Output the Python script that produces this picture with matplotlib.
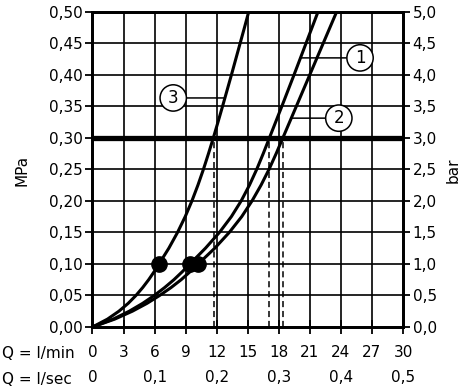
import matplotlib
matplotlib.use('Agg')
import matplotlib.pyplot as plt
import numpy as np

# pressure levels (MPa) and the flow (l/min) each curve reaches at them
pressure = [0, 0.0125, 0.025, 0.0375, 0.05, 0.0625, 0.075, 0.0875, 0.10,
            0.125, 0.15, 0.175, 0.20, 0.225, 0.25, 0.275, 0.30,
            0.325, 0.35, 0.375, 0.40, 0.425, 0.45, 0.475, 0.50]
flow_1 = [0, 2.0, 3.55, 4.85, 5.97, 6.97, 7.87, 8.67, 9.42,
          10.92, 12.27, 13.42, 14.37, 15.17, 15.87, 16.5, 17.1,
          17.7, 18.3, 18.89, 19.48, 20.06, 20.64, 21.22, 21.8]
flow_2 = [0, 2.15, 3.85, 5.27, 6.49, 7.59, 8.57, 9.42, 10.22,
          11.82, 13.22, 14.42, 15.42, 16.29, 17.06, 17.75, 18.4,
          19.05, 19.7, 20.35, 21.0, 21.65, 22.3, 22.95, 23.6]
flow_3 = [0, 1.45, 2.55, 3.45, 4.2, 4.85, 5.43, 5.95, 6.43,
          7.38, 8.22, 8.96, 9.61, 10.19, 10.72, 11.21, 11.68,
          12.13, 12.57, 13.0, 13.43, 13.85, 14.27, 14.69, 15.1]

dot_pressure = 0.10
dot_flow = [9.42, 10.22, 6.43]
limit_pressure = 0.30
limit_flow = [17.1, 18.4, 11.7]

curve_names = ['1', '2', '3']
label_xy = [(25.85, 0.4265), (23.8, 0.331), (7.8, 0.363)]

lmin_ticks = list(range(0, 31, 3))
lsec_ticks = [0, 0.1, 0.2, 0.3, 0.4, 0.5]
mpa_ticks = [i * 0.05 for i in range(11)]
bar_ticks = [i * 0.5 for i in range(11)]

FS = 11

fig = plt.figure(figsize=(4.62, 3.89), dpi=100)
ax = fig.add_axes([0.2002, 0.1594, 0.6721, 0.811])
ax.set_xlim(0, 30)
ax.set_ylim(0, 0.5)

# grid
for x in lmin_ticks[1:-1]:
    ax.axvline(x, color='black', lw=1.2, zorder=1)
for y in mpa_ticks[1:-1]:
    ax.axhline(y, color='black', lw=1.2, zorder=1)
ax.axhline(limit_pressure, color='black', lw=3.8, zorder=2)

ax.vlines(limit_flow, 0, limit_pressure, colors='black', lw=1.1,
          linestyles=(0, (4, 2.5)), zorder=2)

curves = [flow_1, flow_2, flow_3]
for flows in curves:
    ax.plot(flows, pressure, color='black', lw=2.2, zorder=3,
            solid_joinstyle='round', solid_capstyle='round')
ax.plot(dot_flow, [dot_pressure] * 3, 'o', color='black', ms=11, zorder=4)

for name, flows, (lx, ly) in zip(curve_names, curves, label_xy):
    cx = np.interp(ly, pressure, flows)
    ax.annotate(name, xy=(cx, ly), xytext=(lx, ly), ha='center', va='center',
                fontsize=12, zorder=5,
                bbox=dict(boxstyle='circle,pad=0.25', fc='white', ec='black', lw=1.1),
                arrowprops=dict(arrowstyle='-', color='black', lw=1.1,
                                shrinkA=0, shrinkB=0))

for s in ax.spines.values():
    s.set_linewidth(2)

ax.set_xticks(lmin_ticks, [str(v) for v in lmin_ticks])
ax.set_yticks(mpa_ticks, [f'{v:.2f}'.replace('.', ',') for v in mpa_ticks])
ax.tick_params(axis='x', direction='inout', length=10, width=1.3, labelsize=FS, pad=8)
ax.tick_params(axis='y', direction='out', length=5, width=1.3, labelsize=FS, pad=2)

sec = ax.secondary_xaxis('bottom', functions=(lambda q: q / 60, lambda s: s * 60))
sec.set_xticks(lsec_ticks, ['0'] + [f'{v:.1f}'.replace('.', ',') for v in lsec_ticks[1:]])
sec.tick_params(length=0, labelsize=FS, pad=31)
sec.spines['bottom'].set_visible(False)

ax2 = ax.twinx()
ax2.set_ylim(0, 5)
ax2.set_yticks(bar_ticks, [f'{v:.1f}'.replace('.', ',') for v in bar_ticks])
ax2.tick_params(axis='y', direction='out', length=5, width=1.3, labelsize=FS, pad=2)
for s in ax2.spines.values():
    s.set_linewidth(2)

fig.text(2 / 462, 1 - 353 / 389, 'Q = l/min', ha='left', va='center', fontsize=FS)
fig.text(2 / 462, 1 - 380 / 389, 'Q = l/sec', ha='left', va='center', fontsize=FS)
fig.text(22 / 462, 1 - 170 / 389, 'MPa', rotation=90, ha='center', va='center', fontsize=FS)
fig.text(453 / 462, 1 - 170 / 389, 'bar', rotation=90, ha='center', va='center', fontsize=FS)

fig.savefig('out.png', dpi=100)
